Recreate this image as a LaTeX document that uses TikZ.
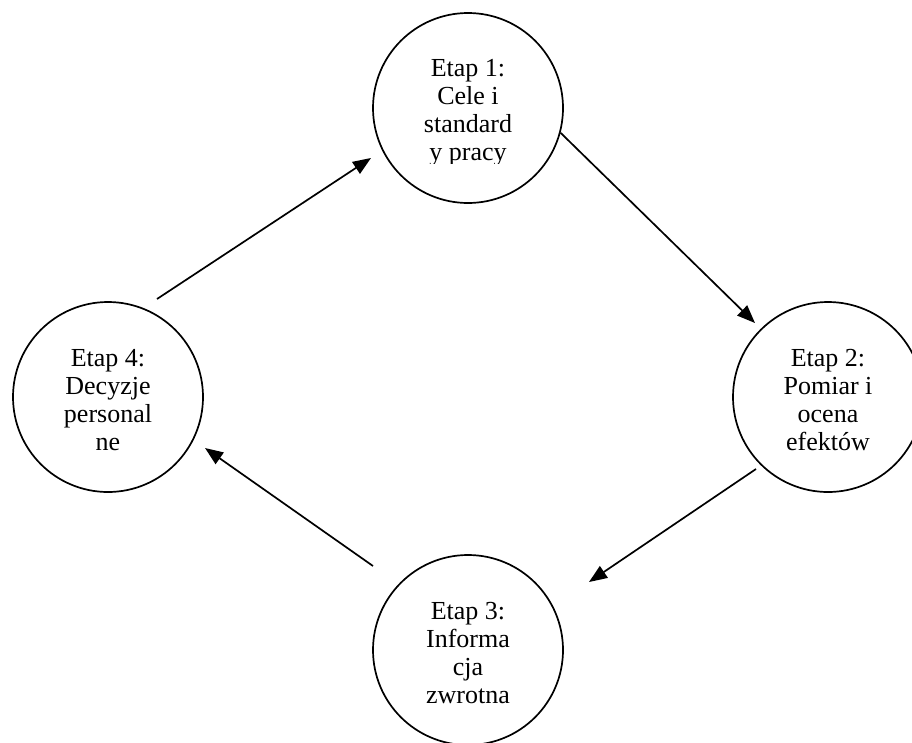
\documentclass[tikz,border=0pt]{standalone}
\usepackage{fontspec}
\setmainfont{Liberation Serif}
\usetikzlibrary{arrows.meta}
\tikzset{
  stage/.style={circle, draw, line width=1.7pt, minimum size=190pt, inner sep=0pt},
  lbl/.style={align=center, inner sep=0pt, font=\fontsize{26}{28}\selectfont},
  arr/.style={line width=1.7pt, -{Triangle[length=18pt,width=14pt]}}
}
\begin{document}
\begin{tikzpicture}[x=1pt,y=-1pt]
\useasboundingbox (0,0) rectangle (912,742);
\clip (0,0) rectangle (912,742);
\fill[white] (0,0) rectangle (912,742);
% circles
\node[stage] (c1) at (468,108) {};
\node[stage] (c2) at (828,397) {};
\node[stage] (c3) at (468,650) {};
\node[stage] (c4) at (108,397) {};
% labels
\begin{scope}
\clip (370,0) rectangle (566,163);
\node[lbl] (t1) at (468,113) {Etap 1:\\Cele i\\standard\\y pracy};
\end{scope}
\node[lbl] (t2) at (828,400) {Etap 2:\\Pomiar i\\ocena\\efektów};
\node[lbl] (t3) at (468,653) {Etap 3:\\Informa\\cja\\zwrotna};
\node[lbl] (t4) at (108,400) {Etap 4:\\Decyzje\\personal\\ne};
% free ends
\coordinate (e12) at (755,323);
\coordinate (s23) at (756,469);
\coordinate (e23) at (589,582);
\coordinate (s34) at (373,566);
\coordinate (e34) at (205,448);
\coordinate (s41) at (157,299);
\coordinate (e41) at (371,158);
% connectors
\draw[arr] (c1.-15) -- (e12);
\draw[arr] (s23) -- (e23);
\draw[arr] (s34) -- (e34);
\draw[arr] (s41) -- (e41);
\end{tikzpicture}
\end{document}
